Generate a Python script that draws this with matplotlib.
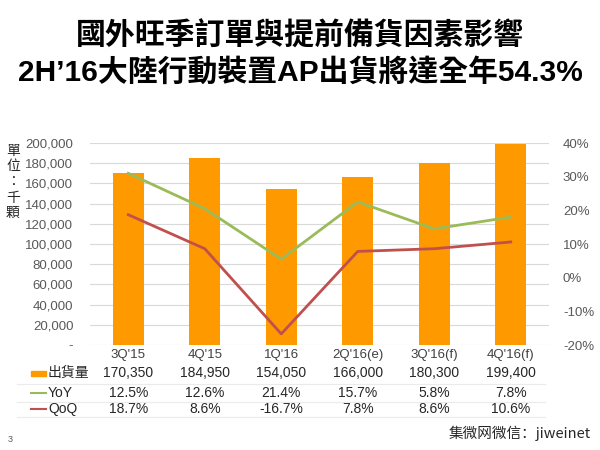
import matplotlib
matplotlib.use('Agg')
import matplotlib.pyplot as plt
import matplotlib.transforms as mtransforms
from matplotlib.ticker import FuncFormatter, MultipleLocator

plt.rcParams['font.family'] = ['Liberation Sans', 'Noto Sans CJK TC', 'DejaVu Sans']

# data
quarters = ["3Q'15", "4Q'15", "1Q'16", "2Q'16(e)", "3Q'16(f)", "4Q'16(f)"]
shipments = [170350, 184950, 154050, 166000, 180300, 199400]
yoy_line = [0.31, 0.205, 0.055, 0.225, 0.145, 0.18]   # as drawn in the chart
qoq_line = [0.187, 0.086, -0.167, 0.078, 0.086, 0.106]
yoy_table = ['12.5%', '12.6%', '21.4%', '15.7%', '5.8%', '7.8%']
qoq_table = ['18.7%', '8.6%', '-16.7%', '7.8%', '8.6%', '10.6%']

bar_color = '#FF9900'
yoy_color = '#9BBB59'
qoq_color = '#C0504D'
grey = '#595959'

fig = plt.figure(figsize=(6, 4.5), dpi=100)
ax = fig.add_axes([90/600, 105/450, 459/600, 202/450])
x = list(range(len(quarters)))

ax.bar(x, shipments, width=0.4, color=bar_color, zorder=2)
ax.set_xlim(-0.5, len(quarters) - 0.5)
ax.set_ylim(0, 200000)
ax.yaxis.set_major_locator(MultipleLocator(20000))
ax.yaxis.set_major_formatter(FuncFormatter(lambda v, p: '-' if v == 0 else f'{int(v):,}'))
ax.grid(axis='y', color='#d9d9d9', lw=0.8, zorder=0)
ax.set_axisbelow(True)
ax.tick_params(axis='y', length=0, labelsize=9.5, labelcolor=grey, pad=12)
ax.set_xticks(x)
ax.set_xticklabels(quarters)
ax.tick_params(axis='x', length=0, labelsize=9.5, labelcolor='#404040', pad=3)
for s in ax.spines.values():
    s.set_visible(False)

ax2 = ax.twinx()
ax2.plot(x, yoy_line, color=yoy_color, lw=2)
ax2.plot(x, qoq_line, color=qoq_color, lw=2)
ax2.set_ylim(-0.2, 0.4)
ax2.yaxis.set_major_locator(MultipleLocator(0.1))
ax2.yaxis.set_major_formatter(FuncFormatter(lambda v, p: f'{round(v * 100):d}%'))
ax2.tick_params(axis='y', length=0, labelsize=9.5, labelcolor=grey, pad=10)
for s in ax2.spines.values():
    s.set_visible(False)

# unit label
fig.text(13/600, 1 - 182/450, '\n'.join('單位：千顆'), ha='center', va='center',
         fontsize=10, color='#262626', linespacing=1.15,
         family=['Noto Sans CJK TC', 'DejaVu Sans'])

# data table under the chart
tr = mtransforms.blended_transform_factory(ax.transData, fig.transFigure)
rows_y = [1 - 373/450, 1 - 393/450, 1 - 409/450]
for i in x:
    ax.text(i, rows_y[0], f'{shipments[i]:,}', transform=tr, ha='center', va='center',
            fontsize=10, color='#262626', clip_on=False)
    ax.text(i, rows_y[1], yoy_table[i], transform=tr, ha='center', va='center',
            fontsize=10, color='#262626', clip_on=False)
    ax.text(i, rows_y[2], qoq_table[i], transform=tr, ha='center', va='center',
            fontsize=10, color='#262626', clip_on=False)

fig.patches.append(plt.Rectangle((31/600, rows_y[0] - 2.5/450), 15/600, 5/450,
                                 transform=fig.transFigure, color=bar_color))
fig.lines.append(plt.Line2D([31/600, 46/600], [rows_y[1]] * 2, transform=fig.transFigure,
                            color=yoy_color, lw=1.5))
fig.lines.append(plt.Line2D([31/600, 46/600], [rows_y[2]] * 2, transform=fig.transFigure,
                            color=qoq_color, lw=1.5))
for lab, yy in zip(['出貨量', 'YoY', 'QoQ'], rows_y):
    fig.text(48/600, yy, lab, ha='left', va='center', fontsize=10, color='#262626')
for yy in [384, 402, 417]:
    fig.lines.append(plt.Line2D([17/600, 545/600], [1 - yy/450] * 2, transform=fig.transFigure,
                                color='#ebebeb', lw=0.8))

# titles
fig.text(0.5, 1 - 36/450, '國外旺季訂單與提前備貨因素影響', ha='center', va='center',
         fontsize=21.5, fontweight='bold', color='black')
fig.text(0.5, 1 - 72/450, '2H’16大陸行動裝置AP出貨將達全年54.3%', ha='center', va='center',
         fontsize=21.5, fontweight='bold', color='black')

# footer
fig.text(8/600, 1 - 440/450, '3', ha='left', va='center', fontsize=6.5, color=grey)
fig.text(591/600, 1 - 433/450, '集微网微信：jiweinet', ha='right', va='center',
         fontsize=10.5, color='#262626', family=['Noto Sans CJK SC', 'DejaVu Sans'])

fig.savefig('out.png', dpi=100)
